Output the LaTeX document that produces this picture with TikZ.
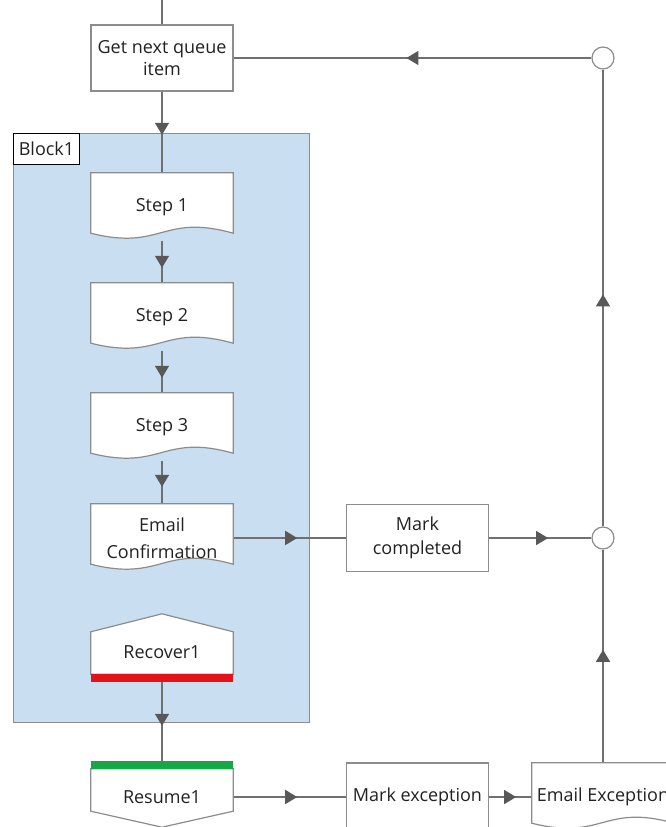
\documentclass[tikz,border=0pt]{standalone}
\usepackage{fontspec}
\setmainfont{Open Sans}
\usetikzlibrary{calc,arrows.meta,decorations.markings}

\definecolor{wire}{RGB}{112,112,112}
\definecolor{tipcol}{RGB}{88,88,88}
\definecolor{edge}{RGB}{140,140,140}
\definecolor{blockfill}{RGB}{202,222,241}
\definecolor{ink}{RGB}{34,34,34}
\definecolor{failbar}{RGB}{226,18,24}
\definecolor{okbar}{RGB}{22,168,72}

\pgfdeclarelayer{blk}
\pgfdeclarelayer{wires}
\pgfdeclarelayer{shapes}
\pgfsetlayers{blk,wires,shapes,main}

\tikzset{
  wireline/.style={draw=wire, line width=1.5pt},
  tipat/.style={postaction={decorate, decoration={markings,
      mark=at position #1 with {\arrow[tipcol]{Triangle[width=14pt,length=12pt]}}}}},
  textbox/.style={inner sep=0pt, align=center, text=ink,
      font=\fontsize{18}{23}\selectfont},
  rectbox/.style={textbox, draw=edge, fill=white, line width=1.2pt,
      minimum width=142pt, minimum height=66pt},
  docbox/.style={textbox, minimum width=142pt, minimum height=68pt},
  hexbox/.style={textbox, minimum width=142pt},
  outline/.style={draw=edge, fill=white, line width=1.2pt},
  joint/.style={circle, draw=edge, fill=white, line width=1.2pt,
      minimum size=22pt, inner sep=0pt},
}

% document symbol: straight top and sides, wavy bottom edge
\newcommand\docoutline[1]{%
  \path[outline] (#1.north west) -- (#1.north east)
    -- ($(#1.south east)+(0,-8)$)
    .. controls ($(#1.south)+(0,-28)$) and ($(#1.south)+(0,10)$)
    .. ($(#1.south west)+(0,-8)$) -- cycle;}

\begin{document}
\begin{tikzpicture}[x=1pt, y=-1pt]
\useasboundingbox (0,0) rectangle (666,827);

% exception block
\begin{pgfonlayer}{blk}
  \node[draw=edge, fill=blockfill, line width=1.2pt, inner sep=0pt,
        minimum width=296pt, minimum height=589pt, anchor=north west]
        (blk) at (13,133) {};
\end{pgfonlayer}
\node[draw=black, fill=white, line width=1pt, anchor=north west, inner sep=0pt,
      minimum width=66pt, minimum height=31pt, text=ink,
      font=\fontsize{18}{22}\selectfont] (blklabel) at (blk.north west) {Block1};

% process nodes
\coordinate (entry) at (162,0);
\node[rectbox, font=\fontsize{18}{22}\selectfont] (gnq) at (162,58) {Get next queue\\item};
\node[docbox] (s1) at (162,207) {Step 1};
\node[docbox] (s2) at (162,317) {Step 2};
\node[docbox] (s3) at (162,427) {Step 3};
\node[docbox, font=\fontsize{18}{27}\selectfont] (ec) at (162,538) {Email\\Confirmation};
\node[hexbox, minimum height=44pt] (rec) at (162,652) {Recover1};
\node[hexbox, minimum height=56pt] (res) at (162,797) {Resume1};
\node[rectbox, minimum height=67pt, font=\fontsize{18}{24}\selectfont] (mc) at (417.5,538) {Mark\\completed};
\node[rectbox, minimum height=68pt] (mex) at (417.5,797) {Mark exception};
\node[docbox] (eex) at (603,797) {Email Exception};
\node[joint] (c1) at (603,58) {};
\node[joint] (c2) at (603,538) {};

% outlines of the custom symbols
\begin{pgfonlayer}{shapes}
  \docoutline{s1}
  \docoutline{s2}
  \docoutline{s3}
  \docoutline{ec}
  \docoutline{eex}
  % recover: pointed top, red bar below
  \path[outline] (rec.south west) -- ($(rec.north west)+(0,2)$)
    -- ($(rec.north)+(0,-16)$) -- ($(rec.north east)+(0,2)$)
    -- (rec.south east) -- cycle;
  \fill[failbar] (rec.south west) rectangle ($(rec.south east)+(0,8)$);
  % resume: green bar above, pointed bottom
  \path[outline] (res.north west) -- (res.north east)
    -- ($(res.south east)+(0,-14)$) -- ($(res.south)+(0,2)$)
    -- ($(res.south west)+(0,-14)$) -- cycle;
  \fill[okbar] ($(res.north west)+(0,-8)$) rectangle (res.north east);
\end{pgfonlayer}

% connectors
\begin{pgfonlayer}{wires}
  \draw[wireline] (entry) -- (gnq.north);
  \draw[wireline, tipat=-38pt] (gnq.south) -- (s1.north);
  \draw[wireline, tipat=-15pt] (s1.south) -- (s2.north);
  \draw[wireline, tipat=-15pt] (s2.south) -- (s3.north);
  \draw[wireline, tipat=-17pt] (s3.south) -- (ec.north);
  \draw[wireline, tipat=-43pt] (rec.south) -- (res.north);
  \draw[wireline, tipat=64pt] (ec.east) -- (mc.west);
  \draw[wireline, tipat=59pt] (mc.east) -- (c2.west);
  \draw[wireline, tipat=64pt] (res.east) -- (mex.west);
  \draw[wireline, tipat=27pt] (mex.east) -- (eex.west);
  \draw[wireline, tipat=113pt] (eex.north) -- (c2.south);
  \draw[wireline, tipat=232pt] (c2.north) -- (c1.south);
  \draw[wireline, tipat=185pt] (c1.west) -- (gnq.east);
\end{pgfonlayer}
\end{tikzpicture}
\end{document}
